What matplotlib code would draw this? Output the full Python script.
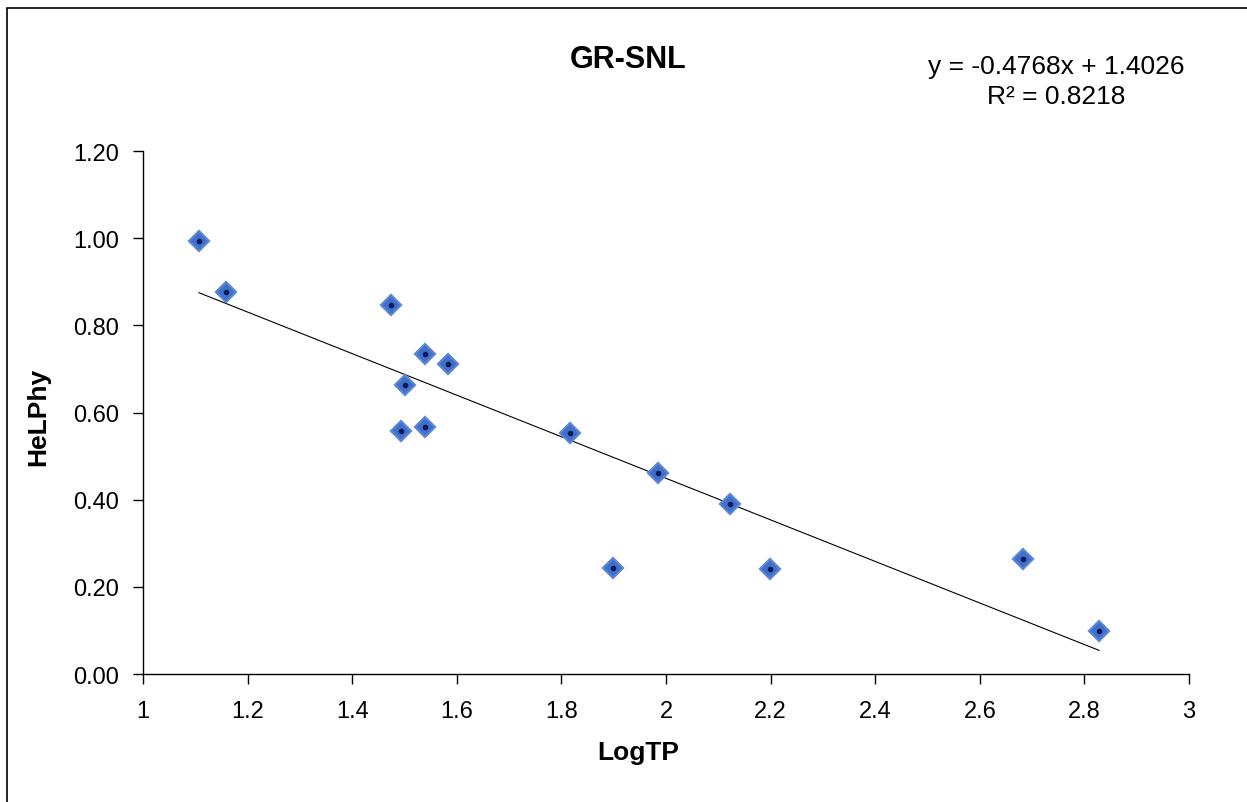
import numpy as np
import matplotlib.pyplot as plt
from matplotlib.patches import Rectangle

plt.rcParams['font.family'] = ['Liberation Sans', 'DejaVu Sans']

# data
log_tp = [1.107, 1.159, 1.474, 1.539, 1.583, 1.501, 1.493, 1.539,
          1.816, 1.899, 1.985, 2.122, 2.199, 2.683, 2.828]
helphy = [0.994, 0.877, 0.847, 0.734, 0.711, 0.663, 0.558, 0.567,
          0.553, 0.243, 0.461, 0.390, 0.241, 0.264, 0.099]
slope = -0.4768
intercept = 1.4026
r2 = 0.8218
x_ticks = [1, 1.2, 1.4, 1.6, 1.8, 2, 2.2, 2.4, 2.6, 2.8, 3]
x_labels = ['1', '1.2', '1.4', '1.6', '1.8', '2', '2.2', '2.4', '2.6', '2.8', '3']
y_ticks = [0.0, 0.2, 0.4, 0.6, 0.8, 1.0, 1.2]

fig = plt.figure(figsize=(12.47, 8.03), dpi=100)
ax = fig.add_axes([0.1147, 0.1594, 0.8388, 0.6513])

# outer frame like the Excel chart area
fig.patches.append(Rectangle((7 / 1247, -0.05), 1.1, 1 - 9 / 803 + 0.05,
                             transform=fig.transFigure, fill=False,
                             edgecolor='black', linewidth=1.2))

# trend line over the data range
xs = np.array([min(log_tp), max(log_tp)])
ax.plot(xs, slope * xs + intercept, color='black', linewidth=0.8, zorder=2)

ax.plot(log_tp, helphy, linestyle='none', marker='D', markersize=10.5,
        markerfacecolor='#3F6FC6', markeredgecolor='#5A86D4',
        markeredgewidth=1.6, zorder=3)
ax.plot(log_tp, helphy, linestyle='none', marker='o', markersize=3,
        color='#0A1A5C', zorder=4)

ax.set_xlim(1, 3)
ax.set_ylim(0, 1.2)
ax.set_xticks(x_ticks)
ax.set_xticklabels(x_labels)
ax.set_yticks(y_ticks)
ax.set_yticklabels(['%.2f' % v for v in y_ticks])
ax.tick_params(axis='both', labelsize=17, length=7, width=1, direction='out')
ax.tick_params(axis='y', pad=10)
ax.tick_params(axis='x', pad=12)
for s in ['top', 'right']:
    ax.spines[s].set_visible(False)
for s in ['left', 'bottom']:
    ax.spines[s].set_linewidth(1)

fig.text(628 / 1247, 1 - 60 / 803, 'GR-SNL', fontsize=22, fontweight='bold',
         ha='center', va='center')
fig.text(1056 / 1247, 1 - 82 / 803,
         'y = %.4fx + %.4f\nR² = %.4f' % (slope, intercept, r2),
         fontsize=19, ha='center', va='center', linespacing=1.35)
fig.text(638 / 1247, 1 - 753 / 803, 'LogTP', fontsize=19, fontweight='bold',
         ha='center', va='center')
fig.text(38 / 1247, 1 - 417 / 803, 'HeLPhy', fontsize=19, fontweight='bold',
         ha='center', va='center', rotation=90)

fig.savefig('out.png', dpi=100)
